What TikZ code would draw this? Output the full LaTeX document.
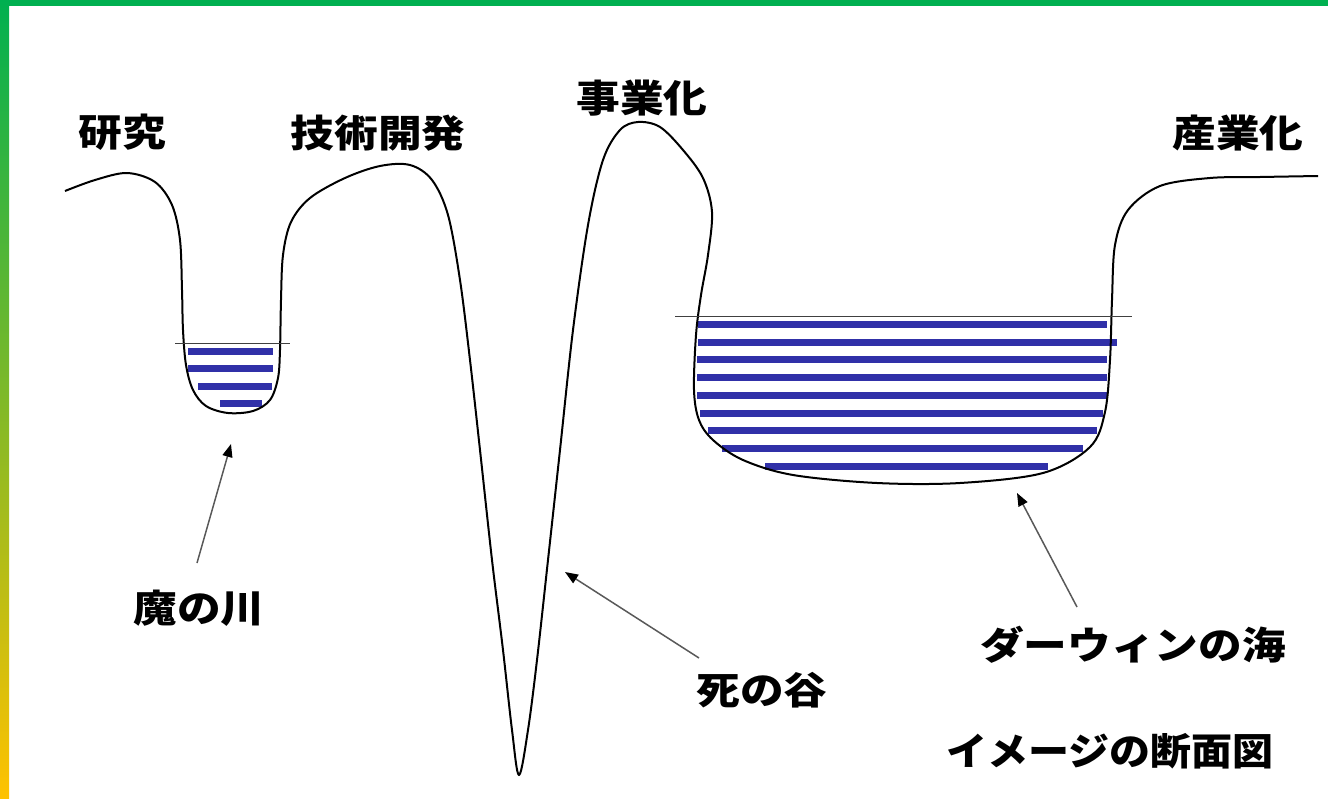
\documentclass[tikz,border=0pt]{standalone}
\usepackage{fontspec}
\usepackage{graphicx}
\newfontfamily\jp{Noto Sans CJK JP}
\usetikzlibrary{arrows.meta}
\definecolor{frameGreen}{RGB}{0,176,80}
\definecolor{frameYellow}{RGB}{255,194,0}
\definecolor{water}{RGB}{48,48,168}
\tikzset{
  lab/.style={font=\jp\bfseries\fontsize{38}{40}\selectfont, inner sep=0pt},
  arr/.style={draw=black!65, line width=1.5pt, -{Triangle[length=13pt,width=10pt,color=black]}},
  stripe/.style={draw=water, line width=7pt},
  waterline/.style={draw=black!75, line width=1pt},
  ground/.style={draw=black, line width=2pt, line join=round}
}
\begin{document}
\begin{tikzpicture}[x=1pt,y=-1pt]
\useasboundingbox (0,0) rectangle (1328,798);
\fill[white] (0,0) rectangle (1328,798);
\fill[frameGreen] (0,0) rectangle (1328,6);
\shade[top color=frameGreen, bottom color=frameYellow] (0,0) rectangle (9,798);

% small river stripes
\draw[stripe] (188,351) -- (273,351);
\draw[stripe] (188,368) -- (273,368);
\draw[stripe] (198,386) -- (272,386);
\draw[stripe] (220,403) -- (262,403);
% sea stripes
\draw[stripe] (698,324) -- (1107,324);
\draw[stripe] (698,342) -- (1117,342);
\draw[stripe] (697,359) -- (1107,359);
\draw[stripe] (697,377) -- (1107,377);
\draw[stripe] (697,395) -- (1108,395);
\draw[stripe] (700,413) -- (1103,413);
\draw[stripe] (708,430) -- (1097,430);
\draw[stripe] (722,448) -- (1083,448);
\draw[stripe] (765,466) -- (1048,466);

% ground profile
\draw[ground] plot[smooth, tension=0.55] coordinates {
 (65,191) (95,180) (127,173) (155,182) (172,205) (180,240) (182,290) (183,330)
 (186,365) (193,390) (206,406) (228,413) (253,411) (270,400) (278,378) (280,350)
 (281,300) (283,255) (291,222) (310,198) (345,178) (380,166) (410,165) (432,180)
 (448,215) (460,280) (470,360) (480,450) (492,560) (503,650) (512,730) (519,775)
 (528,730) (537,660) (548,560) (560,450) (573,330) (588,225) (603,160) (620,130)
 (638,122) (660,127) (683,150) (703,178) (712,212) (708,255) (701,295) (696,335)
 (694,390) (699,420) (713,440) (743,460) (793,475) (877,483) (960,483) (1043,473)
 (1090,447) (1105,412) (1110,360) (1112,300) (1115,245) (1128,210) (1160,186)
 (1210,178) (1260,177) (1318,176)};

% water surfaces
\draw[waterline] (175,343) -- (290,343);
\draw[waterline] (675,316) -- (1132,316);

% labels
\node[lab] (kenkyu) at (122,132) {\scalebox{1.15}[1]{研究}};
\node[lab] (gijutsu) at (378,133) {\scalebox{1.15}[1]{技術開発}};
\node[lab] (jigyo) at (642,98) {\scalebox{1.15}[1]{事業化}};
\node[lab] (sangyo) at (1238,133) {\scalebox{1.15}[1]{産業化}};
\node[lab] (ma) at (199,608) {\scalebox{1.15}[1]{魔の川}};
\node[lab] (shi) at (762,690) {\scalebox{1.15}[1]{死の谷}};
\node[lab] (darwin) at (1133,645) {\scalebox{1.15}[1]{ダーウィンの海}};
\node[lab] (image) at (1110,751) {\scalebox{1.08}[1]{イメージの断面図}};

% arrows
\coordinate (maTail) at (197,563);
\coordinate (maTip) at (231,444);
\coordinate (shiTail) at (699,658);
\coordinate (shiTip) at (565,572);
\coordinate (daTail) at (1077,607);
\coordinate (daTip) at (1017,493);
\draw[arr] (maTail) -- (maTip);
\draw[arr] (shiTail) -- (shiTip);
\draw[arr] (daTail) -- (daTip);
\end{tikzpicture}
\end{document}
